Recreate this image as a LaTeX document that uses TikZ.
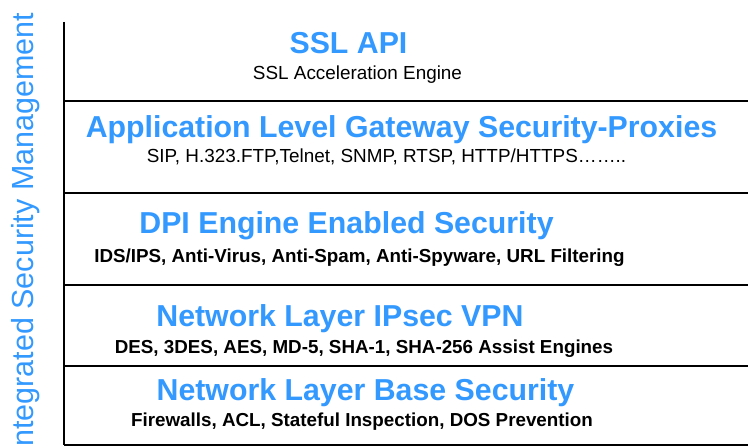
\documentclass[tikz,border=0pt]{standalone}
\usepackage{fontspec}
\setmainfont{Liberation Sans}
\definecolor{titleblue}{RGB}{51,153,255}
\tikzset{
  layertitle/.style={anchor=base, inner sep=0pt, text=titleblue, font=\fontsize{30.3}{32}\selectfont\bfseries},
  layersub/.style={anchor=base, inner sep=0pt, text=black, font=\fontsize{18.9}{21}\selectfont},
  layersubbold/.style={layersub, font=\fontsize{18.8}{21}\selectfont\bfseries},
  frame/.style={line width=1.6pt, black},
  sidetext/.style={anchor=base, inner sep=0pt, rotate=90, text=titleblue, font=\fontsize{30.5}{32}\selectfont}
}
\begin{document}
\begin{tikzpicture}[x=1pt,y=-1pt]
\useasboundingbox (0,0) rectangle (748,446);
% frame
\coordinate (vt) at (64,22);
\coordinate (vb) at (64,445);
\coordinate (h1l) at (64,101); \coordinate (h1r) at (748,101);
\coordinate (h2l) at (64,193); \coordinate (h2r) at (748,193);
\coordinate (h3l) at (64,285); \coordinate (h3r) at (748,285);
\coordinate (h4l) at (64,366); \coordinate (h4r) at (748,366);
\coordinate (h5l) at (64,445); \coordinate (h5r) at (748,445);
\draw[frame] (vt) -- (vb);
\draw[frame] (h1l) -- (h1r);
\draw[frame] (h2l) -- (h2r);
\draw[frame] (h3l) -- (h3r);
\draw[frame] (h4l) -- (h4r);
\draw[frame] (h5l) -- (h5r);
% side label
\node[sidetext] (side) at (33,234) {Integrated Security Management};
% layers
\node[layertitle] (t1) at (348.5,54) {SSL API};
\node[layersub] (s1) at (357.5,80) {SSL Acceleration Engine};
\node[layertitle] (t2) at (401.5,138) {Application Level Gateway Security-Proxies};
\node[layersub] (s2) at (386.5,163) {SIP, H.323.FTP,Telnet, SNMP, RTSP, HTTP/HTTPS……..};
\node[layertitle] (t3) at (346.5,234) {DPI Engine Enabled Security};
\node[layersubbold] (s3) at (359.5,263) {IDS/IPS, Anti-Virus, Anti-Spam, Anti-Spyware, URL Filtering};
\node[layertitle] (t4) at (340,327) {Network Layer IPsec VPN};
\node[layersubbold] (s4) at (364,354) {DES, 3DES, AES, MD-5, SHA-1, SHA-256 Assist Engines};
\node[layertitle] (t5) at (365.5,401) {Network Layer Base Security};
\node[layersubbold] (s5) at (362,427) {Firewalls, ACL, Stateful Inspection, DOS Prevention};
\end{tikzpicture}
\end{document}
